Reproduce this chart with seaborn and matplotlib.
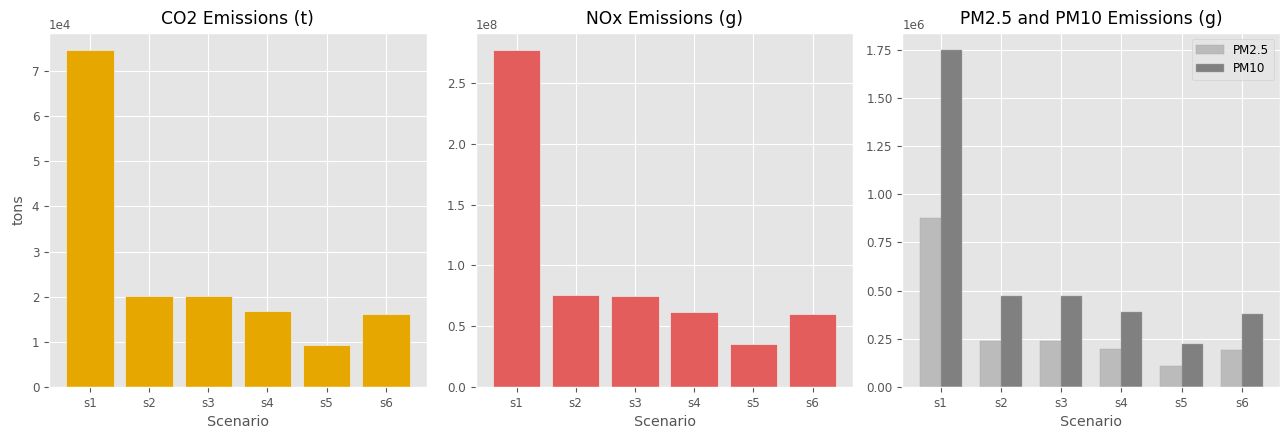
import numpy as np
import pandas as pd
import matplotlib
matplotlib.use("Agg")
import matplotlib.pyplot as plt
import seaborn as sns

scenarios = ["s1", "s2", "s3", "s4", "s5", "s6"]
co2_t = [74700, 20200, 20200, 16800, 9400, 16100]
nox_g = [2.773e8, 0.755e8, 0.750e8, 0.613e8, 0.352e8, 0.600e8]
pm25_g = [0.875e6, 0.240e6, 0.240e6, 0.198e6, 0.110e6, 0.190e6]
pm10_g = [1.750e6, 0.474e6, 0.474e6, 0.388e6, 0.223e6, 0.378e6]

plt.style.use("ggplot")
plt.rcParams["font.size"] = 8.55
plt.rcParams["font.family"] = ["DejaVu Sans"]

df = pd.DataFrame({"Scenario": scenarios, "CO2": co2_t, "NOx": nox_g,
                   "PM2.5": pm25_g, "PM10": pm10_g})
pm_long = df.melt(id_vars="Scenario", value_vars=["PM2.5", "PM10"],
                  var_name="Pollutant", value_name="g")

fig, axes = plt.subplots(1, 3, figsize=(12.83, 4.32), dpi=100)
fig.subplots_adjust(left=0.0382, right=0.9977, bottom=0.104, top=0.924, wspace=0.1296)

bar_kw = dict(edgecolor="#EEEEEE", linewidth=0.5, saturation=1, errorbar=None)

ax = axes[0]
sns.barplot(data=df, x="Scenario", y="CO2", color="#E6A800", width=0.8, ax=ax, **bar_kw)
ax.set_title("CO2 Emissions (t)")
ax.set_ylabel("tons")
ax.set_xlim(-0.69, 5.69)

ax = axes[1]
sns.barplot(data=df, x="Scenario", y="NOx", color="#E35D5D", width=0.8, ax=ax, **bar_kw)
ax.set_title("NOx Emissions (g)")
ax.set_ylabel("")
ax.set_xlim(-0.69, 5.69)

ax = axes[2]
sns.barplot(data=pm_long, x="Scenario", y="g", hue="Pollutant",
            hue_order=["PM2.5", "PM10"],
            palette={"PM2.5": "#BBBBBB", "PM10": "#808080"},
            width=0.7, ax=ax, edgecolor="#A8A8A8", linewidth=0.3,
            saturation=1, errorbar=None)
ax.set_title("PM2.5 and PM10 Emissions (g)")
ax.set_ylabel("")
ax.set_xlim(-0.635, 5.635)
handles, labels = ax.get_legend_handles_labels()
ax.legend(handles, labels, loc="upper right", handlelength=2.3)

for ax in axes:
    ax.set_xlabel("Scenario")
    ax.grid(True, axis="both", color="white")
    ax.set_axisbelow(True)
    ax.ticklabel_format(axis="y", style="sci", scilimits=(0, 0))

fig.savefig("out.png", dpi=100)
